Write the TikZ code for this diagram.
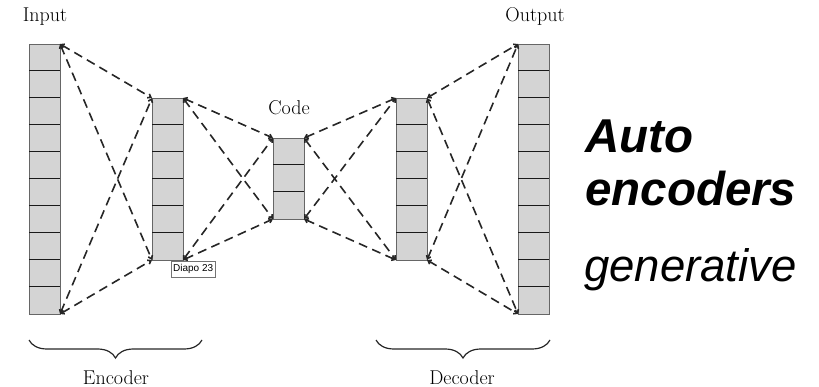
\documentclass[tikz,border=0pt]{standalone}
\usepackage{fontspec}
\newfontfamily\sansfont{Liberation Sans}
\usetikzlibrary{arrows.meta,decorations.pathreplacing,calc,shadows}
\begin{document}
\begin{tikzpicture}[x=1pt,y=-1pt,
  layer/.style={draw=black!60, fill=black!17, line width=0.9pt, minimum width=31pt,
    inner sep=0pt, outer sep=0pt, anchor=north west},
  cellsep/.style={draw=black!90, line width=1pt},
  link/.style={draw=black!85, line width=1.6pt, dash pattern=on 9pt off 5.5pt,
    {Straight Barb[length=3pt,width=4.5pt]}-{Straight Barb[length=3pt,width=4.5pt]}},
  lbl/.style={font=\fontsize{20}{23}\selectfont, text=black, inner sep=0pt, anchor=base},
  brace/.style={draw=black!85, line width=1.2pt, decorate,
    decoration={brace, amplitude=18pt}},
  title/.style={font=\sansfont\fontsize{46}{50}\selectfont, inner sep=0pt, anchor=base west},
  tip/.style={draw=black!55, fill=white, font=\sansfont\fontsize{10}{12}\selectfont,
    inner sep=0pt, minimum width=44pt, minimum height=16pt, anchor=north west,
    drop shadow={shadow xshift=1pt, shadow yshift=-1pt, fill=black!25, opacity=0.6}}
]
\useasboundingbox (0,0) rectangle (819,387);

% the five layers of the network
\node[layer, minimum height=270pt] (L1) at (29,44) {};
\node[layer, minimum height=162pt] (L2) at (152,98) {};
\node[layer, minimum height=81pt]  (L3) at (273,138) {};
\node[layer, minimum height=162pt] (L4) at (396,98) {};
\node[layer, minimum height=270pt] (L5) at (518,44) {};

% cell separators
\foreach \L/\n in {L1/9, L2/5, L3/2, L4/5, L5/9}
  \foreach \k in {1,...,\n}
    \draw[cellsep] ($(\L.north west)+(0,\k*27)$) -- ($(\L.north east)+(0,\k*27)$);

% dashed links between neighbouring layers
\foreach \a/\b in {L1/L2, L2/L3, L3/L4, L4/L5} {
  \draw[link] (\a.north east) -- (\b.north west);
  \draw[link] (\a.north east) -- (\b.south west);
  \draw[link] (\a.south east) -- (\b.north west);
  \draw[link] (\a.south east) -- (\b.south west);
}

% layer labels
\node[lbl] (inp) at (45,22) {Input};
\node[lbl] (out) at (535,22) {Output};
\node[lbl] (code) at (289,115) {Code};

% braces and their labels
\coordinate (eA) at (29,340);
\coordinate (eB) at (202,340);
\coordinate (dA) at (376,340);
\coordinate (dB) at (550,340);
\draw[brace, decoration={mirror}] (eA) -- (eB);
\draw[brace, decoration={mirror}] (dA) -- (dB);
\node[lbl] (enc) at (116,384) {Encoder};
\node[lbl] (dec) at (462,384) {Decoder};

% slide tooltip
\node[tip] (diapo) at (171,261) {Diapo 23};

% heading on the right
\node[title, font=\sansfont\bfseries\itshape\fontsize{47.5}{50}\selectfont] (t1) at (585,153) {Auto};
\node[title, font=\sansfont\bfseries\itshape\fontsize{47.5}{50}\selectfont] (t2) at (585,206) {encoders};
\node[title, font=\sansfont\itshape\fontsize{45.5}{50}\selectfont] (t3) at (584,282) {generative};
\end{tikzpicture}
\end{document}
